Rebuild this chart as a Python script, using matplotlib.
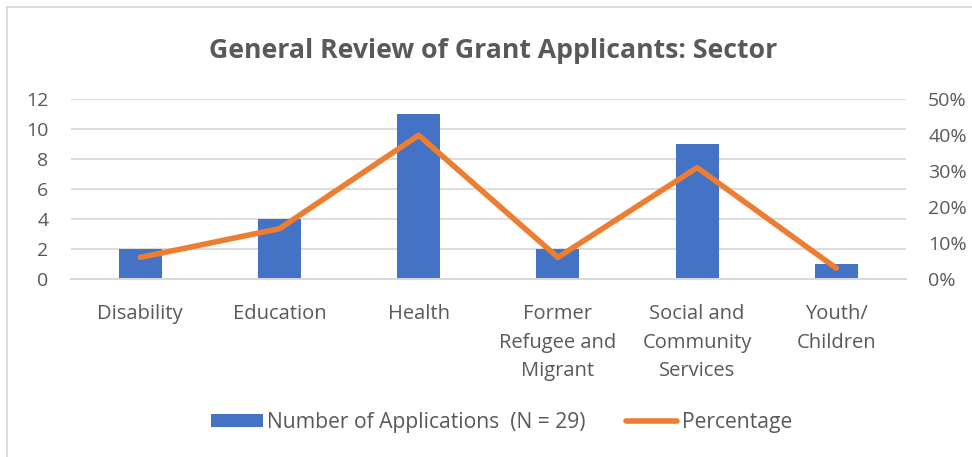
import numpy as np
import matplotlib.pyplot as plt
from matplotlib.lines import Line2D

plt.rcParams["font.family"] = ["Open Sans", "DejaVu Sans"]

sectors = ["Disability", "Education", "Health", "Former\nRefugee and\nMigrant",
           "Social and\nCommunity\nServices", "Youth/\nChildren"]
applications = [2, 4, 11, 2, 9, 1]
percentage = [0.06, 0.14, 0.40, 0.06, 0.31, 0.03]

left_ticks = [0, 2, 4, 6, 8, 10, 12]
right_ticks = [0.0, 0.1, 0.2, 0.3, 0.4, 0.5]

text_grey = "#595959"
grid_grey = "#D9D9D9"
bar_blue = "#4472C4"
line_orange = "#ED7D31"

fig = plt.figure(figsize=(9.72, 4.57), dpi=100)
ax = fig.add_axes([0.0727, 0.3895, 0.8593, 0.3932])
ax2 = ax.twinx()

x = np.arange(len(sectors))
bars = ax.bar(x, applications, width=0.31, color=bar_blue, zorder=2,
              label="Number of Applications  (N = 29)")
line, = ax2.plot(x, percentage, color=line_orange, lw=4,
                 solid_capstyle="round", solid_joinstyle="round",
                 label="Percentage", zorder=3)

ax.set_xlim(-0.5, len(sectors) - 0.5)
ax.set_ylim(0, 12)
ax.set_yticks(left_ticks)
ax2.set_ylim(0, 0.5)
ax2.set_yticks(right_ticks)
ax2.set_yticklabels([f"{int(round(v * 100))}%" for v in right_ticks])

ax.set_xticks(x)
ax.set_xticklabels(sectors, linespacing=1.57, va="top", fontsize=14.5)
ax.yaxis.grid(True, color=grid_grey, lw=1.3, zorder=0)
ax.set_axisbelow(True)

for a in (ax, ax2):
    for side in ("top", "left", "right"):
        a.spines[side].set_visible(False)
    a.spines["bottom"].set_color(grid_grey)
    a.spines["bottom"].set_linewidth(1.3)
    a.tick_params(length=0, labelsize=14, labelcolor=text_grey)
ax.tick_params(axis="y", pad=16)
ax2.tick_params(axis="y", pad=16)
ax.tick_params(axis="x", pad=18, labelsize=14.5)

fig.text(0.507, 1 - 57.5 / 457, "General Review of Grant Applicants: Sector",
         ha="center", va="baseline", fontsize=19.2, fontweight="bold", color=text_grey)

leg = fig.legend([bars, line], [bars.get_label(), line.get_label()],
                 loc="center", bbox_to_anchor=(0.516, 0.0755), ncol=2, frameon=False,
                 fontsize=15.2, handlelength=2.45, handleheight=0.62,
                 handletextpad=0.2, columnspacing=1.9)
for t in leg.get_texts():
    t.set_color(text_grey)

# chart area border (only top and left edges visible in the crop)
fig.add_artist(Line2D([6.5 / 972, 6.5 / 972], [0, 1 - 7 / 457],
                      transform=fig.transFigure, color=grid_grey, lw=1.3))
fig.add_artist(Line2D([6.5 / 972, 1], [1 - 7 / 457, 1 - 7 / 457],
                      transform=fig.transFigure, color=grid_grey, lw=1.3))

fig.savefig("out.png", dpi=100)
